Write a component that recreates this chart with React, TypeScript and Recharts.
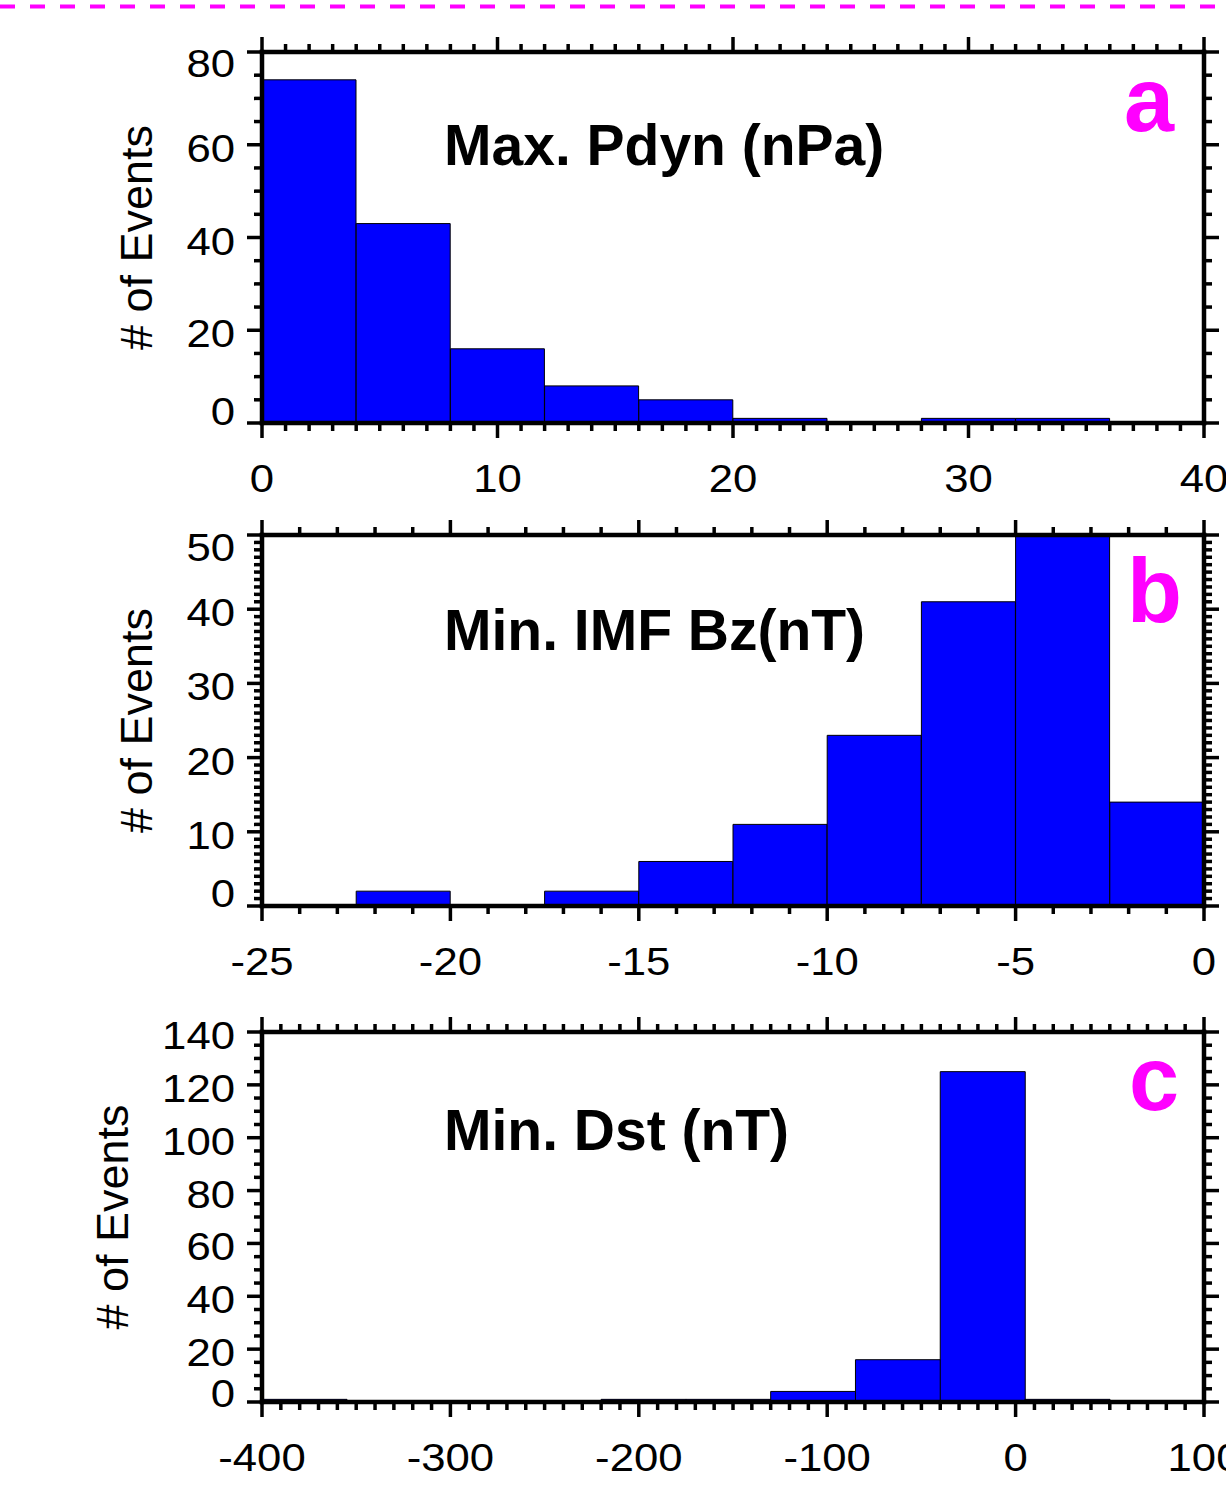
import React from "react";
import { BarChart, Bar, XAxis, YAxis } from "recharts";

const W = 1226;
const H = 1485;
const FONT = "'Liberation Sans', Arial, Helvetica, sans-serif";

// panel a: maximum dynamic pressure (nPa), bins of 4
const pdynBinStart = [0, 4, 8, 12, 16, 20, 24, 28, 32, 36];
const pdynCounts = [74, 43, 16, 8, 5, 1, 0, 1, 1, 0];
const pdynTicks = [0, 10, 20, 30, 40];
const pdynCountTicks = [0, 20, 40, 60, 80];

// panel b: minimum IMF Bz (nT), bins of 2.5
const bzBinStart = [-25, -22.5, -20, -17.5, -15, -12.5, -10, -7.5, -5, -2.5];
const bzCounts = [0, 2, 0, 2, 6, 11, 23, 41, 50, 14];
const bzTicks = [-25, -20, -15, -10, -5, 0];
const bzCountTicks = [0, 10, 20, 30, 40, 50];

// panel c: minimum Dst (nT), bins of 45
const dstBinStart = [-400, -355, -310, -265, -220, -175, -130, -85, -40, 5, 50];
const dstCounts = [1, 0, 0, 0, 1, 1, 4, 16, 125, 1, 0];
const dstTicks = [-400, -300, -200, -100, 0, 100];
const dstCountTicks = [0, 20, 40, 60, 80, 100, 120, 140];

const steps = (lo: number, hi: number, step: number) => {
  const out: number[] = [];
  for (let v = lo; v <= hi + 1e-9; v += step) out.push(Math.round(v * 1000) / 1000);
  return out;
};

const panels = [
  {
    id: "a", binStart: pdynBinStart, binWidth: 4, counts: pdynCounts,
    xTicks: pdynTicks, xMinor: 1, yTicks: pdynCountTicks, yMinor: 5,
    plotTop: 52, plotBottom: 423, nudgeLo: -12, nudgeHi: 11, ylabelGap: 110,
    title: "Max. Pdyn (nPa)", titleY: 165, letterX: 1124, letterY: 131,
  },
  {
    id: "b", binStart: bzBinStart, binWidth: 2.5, counts: bzCounts,
    xTicks: bzTicks, xMinor: 1, yTicks: bzCountTicks, yMinor: 1,
    plotTop: 535, plotBottom: 906, nudgeLo: -13, nudgeHi: 12, ylabelGap: 110,
    title: "Min. IMF Bz(nT)", titleY: 650, letterX: 1127, letterY: 622,
  },
  {
    id: "c", binStart: dstBinStart, binWidth: 45, counts: dstCounts,
    xTicks: dstTicks, xMinor: 10, yTicks: dstCountTicks, yMinor: 5,
    plotTop: 1032, plotBottom: 1402, nudgeLo: -9, nudgeHi: 3, ylabelGap: 134,
    title: "Min. Dst (nT)", titleY: 1150, letterX: 1129, letterY: 1110,
  },
];

const axisLine = { stroke: "#000", strokeWidth: 4.5, strokeLinecap: "square" as const };

function AxisTick(props: any) {
  const { x, y, payload, side, majors, label, nudgeLo, nudgeHi, lo, hi } = props;
  const v = payload.value;
  const major = majors.includes(v);
  const len = major ? 15 : 8;
  let line;
  if (side === "bottom") line = <line x1={x} x2={x} y1={y} y2={y + len} />;
  else if (side === "top") line = <line x1={x} x2={x} y1={y} y2={y - len} />;
  else if (side === "left") line = <line x1={x} x2={x - len} y1={y} y2={y} />;
  else line = <line x1={x} x2={x + len} y1={y} y2={y} />;
  let text = null;
  if (label && major) {
    if (side === "bottom") {
      text = (
        <text transform={`translate(${x},${y + 69}) scale(1.15,1)`} textAnchor="middle"
          fontSize={38} fontFamily={FONT} fill="#000">{v}</text>
      );
    } else {
      const dy = v === lo ? nudgeLo : v === hi ? nudgeHi : 3;
      text = (
        <text transform={`translate(${x - 27},${y + dy + 14}) scale(1.15,1)`} textAnchor="end"
          fontSize={38} fontFamily={FONT} fill="#000">{v}</text>
      );
    }
  }
  return (
    <g>
      <g stroke="#000" strokeWidth={3.5}>{line}</g>
      {text}
    </g>
  );
}

function Panel({ p }: { p: (typeof panels)[number] }) {
  const data = p.binStart.map((s, i) => ({ x: s + p.binWidth / 2, n: p.counts[i] }));
  const xLo = p.xTicks[0];
  const xHi = p.xTicks[p.xTicks.length - 1];
  const yLo = p.yTicks[0];
  const yHi = p.yTicks[p.yTicks.length - 1];
  const xAll = steps(xLo, xHi, p.xMinor);
  const yAll = steps(yLo, yHi, p.yMinor);
  const chartTop = p.plotTop - 30;
  const chartH = p.plotBottom - p.plotTop + 110;
  const common = { tickSize: 0, tickMargin: 0, tickLine: false, axisLine, interval: 0 as const };
  return (
    <div style={{ position: "absolute", left: 0, top: chartTop }}>
      <BarChart width={W} height={chartH} data={data}
        margin={{ top: 10, right: 2, bottom: 20, left: 162 }} barCategoryGap={0} barGap={0}>
        <XAxis xAxisId="bottom" dataKey="x" type="number" domain={[xLo, xHi]} ticks={xAll}
          orientation="bottom" height={60} allowDataOverflow {...common}
          tick={(t: any) => <AxisTick {...t} side="bottom" majors={p.xTicks} label />} />
        <XAxis xAxisId="top" dataKey="x" type="number" domain={[xLo, xHi]} ticks={xAll}
          orientation="top" height={20} allowDataOverflow {...common}
          tick={(t: any) => <AxisTick {...t} side="top" majors={p.xTicks} />} />
        <YAxis yAxisId="left" type="number" domain={[yLo, yHi]} ticks={yAll} width={100}
          allowDataOverflow {...common}
          tick={(t: any) => (
            <AxisTick {...t} side="left" majors={p.yTicks} label lo={yLo} hi={yHi}
              nudgeLo={p.nudgeLo} nudgeHi={p.nudgeHi} />
          )}
          label={(lp: any) => {
            const vb = lp.viewBox || {};
            const bx = vb.x + vb.width - p.ylabelGap;
            const cy = vb.y + vb.height / 2;
            return (
              <text transform={`translate(${bx},${cy}) rotate(-90)`} textAnchor="middle"
                fontSize={45} fontFamily={FONT} fill="#000">
                # of Events
              </text>
            );
          }} />
        <YAxis yAxisId="right" orientation="right" type="number" domain={[yLo, yHi]} ticks={yAll}
          width={20} allowDataOverflow {...common}
          tick={(t: any) => <AxisTick {...t} side="right" majors={p.yTicks} />} />
        <Bar xAxisId="bottom" yAxisId="left" dataKey="n" fill="#0000ff" stroke="#000"
          strokeWidth={1} isAnimationActive={false} />
      </BarChart>
    </div>
  );
}

export default function App() {
  return (
    <div style={{ position: "absolute", left: 0, top: 0, width: W, height: H, background: "#fff", overflow: "hidden" }}>
      {panels.map((p) => (
        <Panel key={p.id} p={p} />
      ))}
      <svg width={W} height={H} style={{ position: "absolute", left: 0, top: 0, pointerEvents: "none" }}>
        <line x1={0} x2={W} y1={6.5} y2={6.5} stroke="#ff00ff" strokeWidth={4} strokeDasharray="15 15" />
        {panels.map((p) => (
          <g key={p.id}>
            <text x={444} y={p.titleY} fontSize={57} fontWeight="bold" fontFamily={FONT} fill="#000">
              {p.title}
            </text>
            <text x={p.letterX} y={p.letterY} fontSize={90} fontWeight="bold" fontFamily={FONT} fill="#ff00ff">
              {p.id}
            </text>
          </g>
        ))}
      </svg>
    </div>
  );
}
